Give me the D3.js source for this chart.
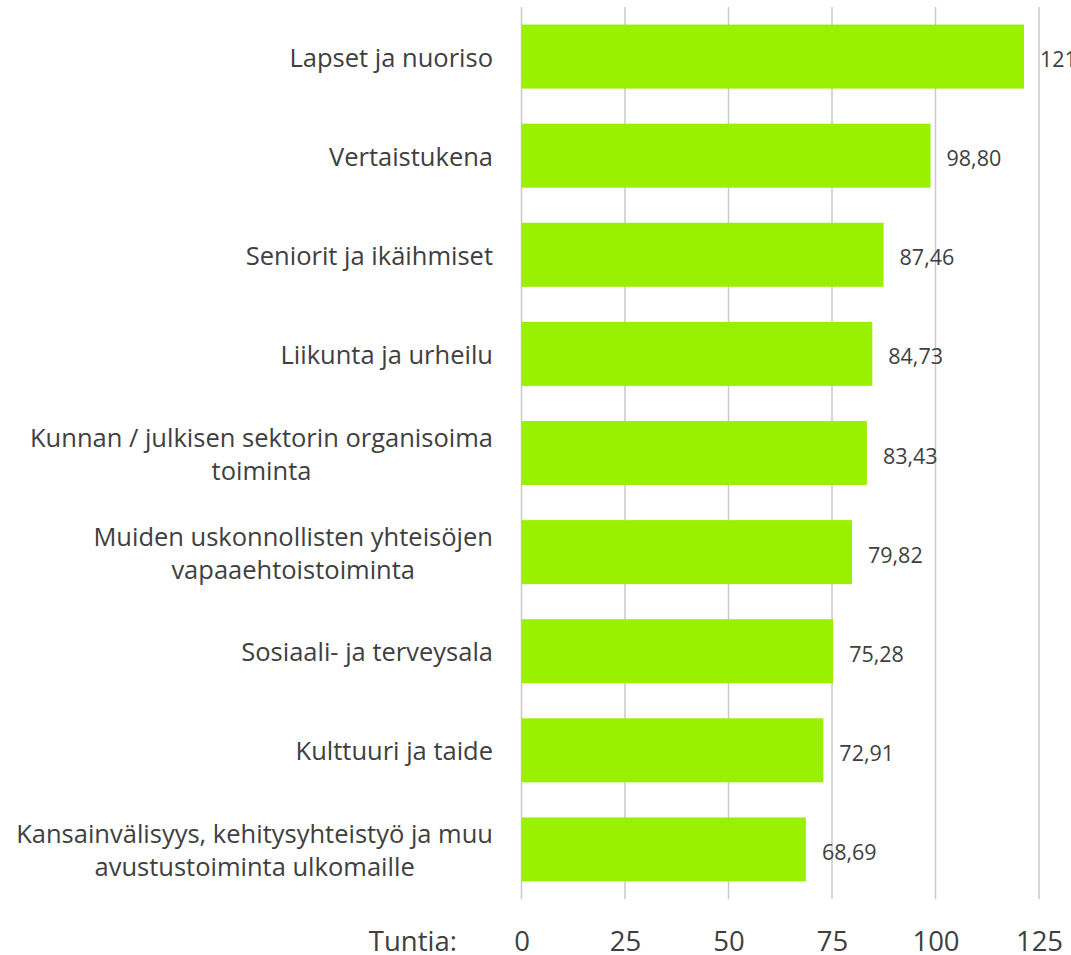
<!DOCTYPE html>
<html lang="fi">
<head>
  <meta charset="utf-8" />
  <title>Tuntia</title>
  <script src="https://d3js.org/d3.v7.min.js"></script>
  <style>
    body { margin: 0; background: #fff; }
    text { font-family: "Open Sans", sans-serif; fill: #404040; }
  </style>
</head>
<body>
  <div id="chart"></div>
  <script>
    // categories, top to bottom ("\n" = line break in label)
    var categories = [
      "Lapset ja nuoriso",
      "Vertaistukena",
      "Seniorit ja ikäihmiset",
      "Liikunta ja urheilu",
      "Kunnan / julkisen sektorin organisoima\ntoiminta",
      "Muiden uskonnollisten yhteisöjen\nvapaaehtoistoiminta",
      "Sosiaali- ja terveysala",
      "Kulttuuri ja taide",
      "Kansainvälisyys, kehitysyhteistyö ja muu\navustustoiminta ulkomaille"
    ];
    var values = [121.38, 98.80, 87.46, 84.73, 83.43, 79.82, 75.28, 72.91, 68.69];
    var ticks = [0, 25, 50, 75, 100, 125];
    var axisTitle = "Tuntia:";

    var width = 1071, height = 955;

    var svg = d3.select("#chart")
                .append("svg")
                .attr("width", width)
                .attr("height", height);

    var x = d3.scaleLinear()
              .domain([0, 125])
              .range([521.5, 1039]);

    var y = d3.scaleBand()
              .domain(categories)
              .range([7, 899])
              .paddingInner(0.354)
              .paddingOuter(0.177);

    // gridlines
    svg.selectAll(".grid")
       .data(ticks)
       .enter()
       .append("line")
       .attr("x1", function(d) { return x(d); })
       .attr("x2", function(d) { return x(d); })
       .attr("y1", 7)
       .attr("y2", 899)
       .attr("stroke", "#c9c9c9")
       .attr("stroke-width", 1.5);

    // bars
    svg.selectAll(".bar")
       .data(categories)
       .enter()
       .append("rect")
       .attr("x", x(0))
       .attr("y", function(d) { return y(d); })
       .attr("width", function(d, i) { return x(values[i]) - x(0); })
       .attr("height", y.bandwidth())
       .attr("fill", "#99f000");

    // value labels
    svg.selectAll(".val")
       .data(categories)
       .enter()
       .append("text")
       .attr("x", function(d, i) { return x(values[i]) + 16; })
       .attr("y", function(d) { return y(d) + y.bandwidth() / 2 + 2; })
       .attr("dominant-baseline", "central")
       .style("font-size", "21.5px")
       .text(function(d, i) { return d3.format(".2f")(values[i]).replace(".", ","); });

    // category labels: lines centred on each other, block right-aligned
    var labelRight = 493, lineH = 33;
    categories.forEach(function(c) {
      var lines = c.split("\n");
      var t = svg.append("text")
                 .attr("text-anchor", "middle")
                 .style("font-size", "25.5px");
      var y0 = y(c) + y.bandwidth() / 2 - (lines.length - 1) * lineH / 2;
      lines.forEach(function(l, j) {
        t.append("tspan")
         .attr("x", 0)
         .attr("y", y0 + j * lineH)
         .attr("dominant-baseline", "central")
         .text(l);
      });
      var w = t.node().getBBox().width;
      t.attr("transform", "translate(" + (labelRight - w / 2) + ",0)");
    });

    // x axis tick labels
    var axis = d3.axisBottom(x)
                 .tickValues(ticks)
                 .tickSize(0)
                 .tickPadding(0);
    var ax = svg.append("g")
                .attr("transform", "translate(0,951)")
                .call(axis);
    ax.select(".domain").remove();
    ax.selectAll("text")
      .attr("dy", 0)
      .attr("y", 0)
      .style("font-size", "27.5px")
      .style("font-family", "'Open Sans', sans-serif")
      .attr("fill", "#404040");

    svg.append("text")
       .attr("x", 457)
       .attr("y", 951)
       .attr("text-anchor", "end")
       .style("font-size", "27.5px")
       .text(axisTitle);
  </script>
</body>
</html>
